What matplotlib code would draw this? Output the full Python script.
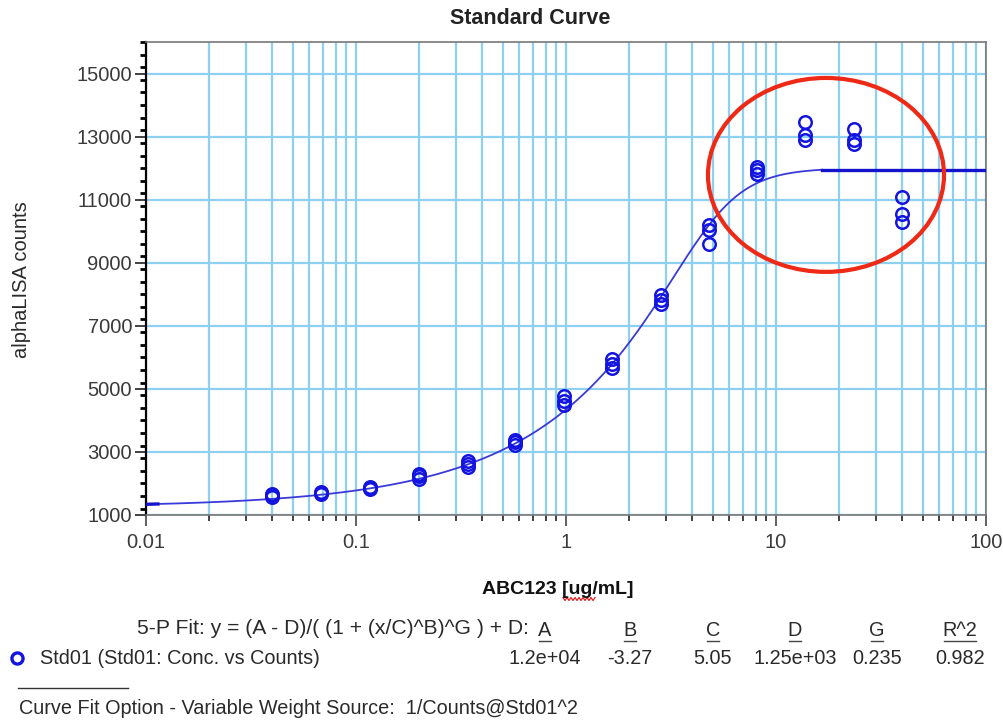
import numpy as np
import matplotlib
matplotlib.use("Agg")
import matplotlib.pyplot as plt
from matplotlib.patches import Ellipse
from matplotlib.ticker import LogLocator, FixedLocator, MultipleLocator, FuncFormatter, NullFormatter

plt.rcParams['font.family'] = ['Liberation Sans', 'DejaVu Sans']

# ---- data ----
conc = [0.04, 0.068, 0.117, 0.2, 0.34, 0.57, 0.98, 1.66, 2.82, 4.8, 8.1, 13.8, 23.5, 40]
rep1 = [1580, 1660, 1830, 2150, 2520, 3220, 4480, 5650, 7700, 9600, 11800, 12900, 12750, 10300]
rep2 = [1620, 1700, 1870, 2230, 2620, 3300, 4620, 5800, 7820, 10050, 11950, 13050, 12900, 10550]
rep3 = [1660, 1730, 1900, 2300, 2720, 3380, 4760, 5950, 7980, 10200, 12050, 13450, 13250, 11100]

fit_names = ["A", "B", "C", "D", "G", "R^2"]
fit_labels = ["1.2e+04", "-3.27", "5.05", "1.25e+03", "0.235", "0.982"]
A, B, C, D, G = 1.2e4, -3.27, 5.05, 1.25e3, 0.235
curve_end = 16.6

yticks = [1000, 3000, 5000, 7000, 9000, 11000, 13000, 15000]
xticks = [0.01, 0.1, 1, 10, 100]
xtick_labels = ["0.01", "0.1", "1", "10", "100"]

W, H = 1004, 720
fig = plt.figure(figsize=(W / 100, H / 100), dpi=100)
ax = fig.add_axes([146 / W, (H - 515) / H, 840 / W, 473 / H])

grid_c = '#8ed0f2'
blue = '#1414e0'
curve_c = '#3a3ad8'
txt_c = '#2a2a2a'

ax.set_xscale('log')
ax.set_xlim(0.01, 100)
ax.set_ylim(1000, 16000)

ax.xaxis.set_major_locator(FixedLocator(xticks))
ax.xaxis.set_major_formatter(FuncFormatter(lambda v, p: xtick_labels[xticks.index(v)] if v in xticks else ""))
ax.xaxis.set_minor_locator(LogLocator(base=10, subs=np.arange(2, 10)))
ax.xaxis.set_minor_formatter(NullFormatter())
ax.yaxis.set_major_locator(FixedLocator(yticks))
ax.yaxis.set_minor_locator(MultipleLocator(400))

ax.grid(True, which='both', axis='x', color=grid_c, lw=1.6, zorder=0)
ax.grid(True, which='major', axis='y', color=grid_c, lw=1.6, zorder=0)
ax.set_axisbelow(True)

for s in ['top', 'right', 'bottom']:
    ax.spines[s].set_color('#777777')
    ax.spines[s].set_linewidth(1.2)
ax.spines['left'].set_color('black')
ax.spines['left'].set_linewidth(1.6)

ax.tick_params(axis='x', which='major', length=8, width=1.3, color='#555555', labelsize=14.5, pad=5, labelcolor='#3a3a3a')
ax.tick_params(axis='x', which='minor', length=4, width=1.2, color='#222222')
ax.tick_params(axis='y', which='major', length=8, width=1.3, color='#333333', labelsize=14.5, pad=2, labelcolor='#3a3a3a')
ax.tick_params(axis='y', which='minor', length=4, width=2.0, color='black')

# fitted curve
xs = np.logspace(-2, np.log10(curve_end), 400)
ys = (A - D) / (1 + (xs / C) ** B) ** G + D
ax.plot(xs, ys, color=curve_c, lw=1.3, zorder=3)
ax.plot([curve_end, 100], [ys[-1], ys[-1]], color='#1414cc', lw=2.4, zorder=3)
ax.plot(xs[:8], ys[:8], color='#1414cc', lw=2.4, zorder=3)

for r in (rep1, rep2, rep3):
    ax.plot(conc, r, linestyle='none', marker='o', ms=9, mfc='none', mec=blue, mew=1.8, zorder=4)

# red annotation ellipse
ell = Ellipse((0.8095, 0.719), 0.281, 0.410, transform=ax.transAxes, fill=False,
              edgecolor='#ee2a16', lw=3, clip_on=False, zorder=5)
ax.add_patch(ell)

def fx(px):
    return px / W

def fy(py):
    return 1 - py / H

fig.text(fx(530), fy(18), "Standard Curve", ha='center', va='center', fontsize=15.5, fontweight='bold', color='#222222')
fig.text(fx(22), fy(280), "alphaLISA counts", ha='center', va='center', rotation=90, fontsize=14.5, color=txt_c)
fig.text(fx(558), fy(590), "ABC123 [ug/mL]", ha='center', va='center', fontsize=14, fontweight='bold', color='#111111')
# spell-check squiggle under "ug"
sq_x = np.linspace(563, 595, 17)
sq_y = 599 + np.where(np.arange(17) % 2 == 0, -1.5, 1.5)
fig.add_artist(plt.Line2D(fx(sq_x), fy(sq_y), color='#e02020', lw=0.9))

fs = 14.3
fig.text(fx(529), fy(629), "5-P Fit: y = (A - D)/( (1 + (x/C)^B)^G ) + D:", ha='right', va='center', fontsize=15.2, color=txt_c)
head_x = [545, 630, 713, 795, 877, 960]
for hx, name, lab in zip(head_x, fit_names, fit_labels):
    fig.text(fx(hx), fy(630), name, ha='center', va='center', fontsize=fs, color=txt_c)
    fig.text(fx(hx), fy(659), lab, ha='center', va='center', fontsize=fs, color=txt_c)
    half = 6 + 5 * (len(name) - 1)
    fig.add_artist(plt.Line2D([fx(hx - half), fx(hx + half)], [fy(641), fy(641)], color='#444444', lw=1.0))

fig.add_artist(plt.Line2D([fx(17)], [fy(658)], marker='o', ms=8, mfc='none', mec=blue, mew=2.4, linestyle='none'))
fig.text(fx(40), fy(658), "Std01 (Std01: Conc. vs Counts)", ha='left', va='center', fontsize=fs, color=txt_c)
fig.add_artist(plt.Line2D([fx(18), fx(128)], [fy(688), fy(688)], color='#333333', lw=1.0))
fig.text(fx(19), fy(708), "Curve Fit Option - Variable Weight Source:  1/Counts@Std01^2", ha='left', va='center', fontsize=fs, color=txt_c)

fig.savefig("out.png", dpi=100)
